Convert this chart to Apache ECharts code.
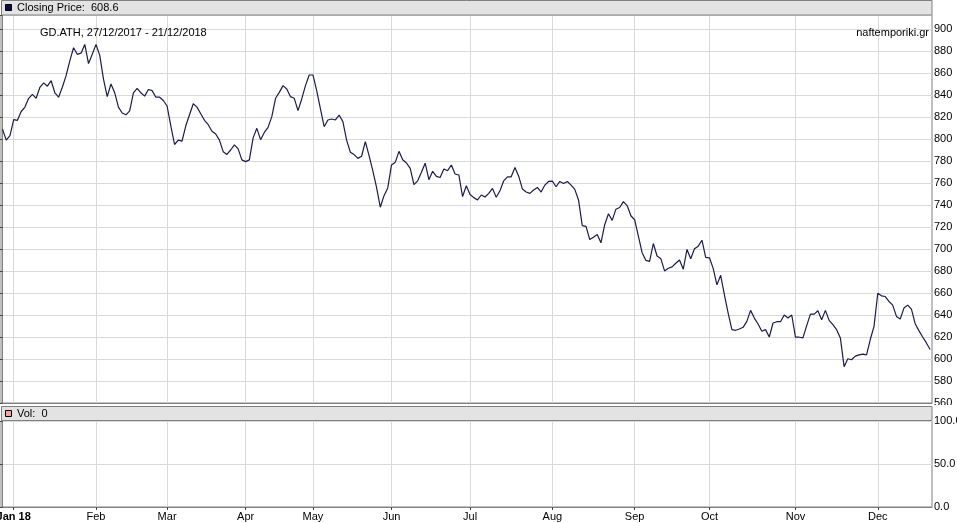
<!DOCTYPE html>
<html><head><meta charset="utf-8">
<script src="https://cdn.jsdelivr.net/npm/echarts@6/dist/echarts.min.js"></script>
<style>html,body{margin:0;padding:0;background:#fff}#c{width:957px;height:523px}</style>
</head><body><div id="c"></div>
<script>
const symbol = 'GD.ATH';
const source = 'naftemporiki.gr';
const startDate = '2017-12-27';
const endDate = '2018-12-21';
const holidays = ['2018-01-01','2018-02-19','2018-03-30','2018-04-02','2018-04-06','2018-04-09','2018-05-01','2018-05-28','2018-08-15'];
const monthNames = ['Jan','Feb','Mar','Apr','May','Jun','Jul','Aug','Sep','Oct','Nov','Dec'];
const closing = [
809,799,803,817.6,817,825,829,837,840.6,837,847,851,848,853,842,838,847,857.6,871,883,
877,878,886,868.5,877,886,876,854.5,838.5,850,842,829,823.6,822,825.5,842,846,842,839,845,
844,838,838,835,830,812,795,799,798,812,822,832,829,823,817,813,807,804.5,799,788.5,
786,790,794.6,791,781,779.4,781,801,809.7,799.4,806,810.6,820.3,837,842.4,848.5,845.5,838.5,837,825.8,
836.4,848.5,858.2,858.2,844,827.3,811.2,817.3,818.2,817.3,821.8,815.8,799,788,785.8,782.4,784.3,797.6,784.9,771.2,
756,738,748.5,755.5,776.4,778.8,788.8,781.2,778.2,773.3,758.5,762,769.7,778,763,770.6,766,765,772.7,771.2,
776.4,768.2,767.3,747.6,757.5,749.5,746.7,744.6,749.1,747.3,750.6,755.1,747,753,762,765.6,765.6,774,766.2,754.5,
751.8,750.6,753.6,756,751.8,758.1,761.4,761.7,756.6,761.4,759.6,761.4,758.1,754.2,744.6,721.2,720.6,708.6,710.7,713.1,
705.6,722.1,732,726,736.2,737.7,743.1,739.5,730.2,726.6,711.6,696.6,689.7,688.8,705,693.6,691.2,680.1,682.5,683.7,
687,690,681.6,699.6,691.2,700.2,702.6,708,692.3,692,682.4,667.4,676.1,658.3,641.8,626.7,626.1,627.3,628.8,634.2,
644.2,637.2,631.8,625.2,626.7,620,632.7,633.9,633.9,640,637.2,640,619.8,619.8,619.2,630.3,640.8,640.8,643.9,635.7,
644.2,635.1,631.2,626.7,619.2,593,600.2,599.3,602.6,603.8,604.4,603.8,617.7,629.7,659.8,657.4,656.8,652.3,649,638.7,
636.3,646.3,649,645.4,632.1,625.8,620,614.6,608.6
];
const lastVolume = 0;
const priceTickStep = 20, priceMin = 560, priceTopLabel = 900;
const volTicks = [0, 50, 100];

// trading calendar
const dates = [];
(function(){
  const p = s => { const a = s.split('-').map(Number); return Date.UTC(a[0], a[1]-1, a[2]); };
  for (let t = p(startDate); t <= p(endDate); t += 86400000) {
    const d = new Date(t), wd = d.getUTCDay(), s = d.toISOString().slice(0,10);
    if (wd === 0 || wd === 6 || holidays.indexOf(s) >= 0) continue;
    dates.push(s);
  }
})();
const monthStarts = [];
for (let i = 1; i < dates.length; i++) if (dates[i].slice(5,7) !== dates[i-1].slice(5,7)) monthStarts.push(i);
const fmtDate = s => s.slice(8,10) + '/' + s.slice(5,7) + '/' + s.slice(0,4);
const FONT = 'Liberation Sans, Arial, sans-serif';
const GRID_C = '#d9d9d9', BORDER_C = '#808080', LINE_C = '#1b1b4f', HEAD_C = '#e3e3e3';

const chart = echarts.init(document.getElementById('c'), null, {renderer: 'canvas'});
const xMin = -0.4, xMax = closing.length - 0.5;
function xAxisCfg(gi, showLabels) {
  return {
    type: 'value', gridIndex: gi, min: xMin, max: xMax,
    axisLine: {show: true, onZero: false, lineStyle: {color: BORDER_C, width: 1}},
    axisTick: {show: showLabels, length: 3, customValues: monthStarts, lineStyle: {color: '#444'}},
    axisLabel: {show: showLabels, customValues: monthStarts, margin: 4, color: '#000', fontSize: 11, fontFamily: FONT,
      hideOverlap: false,
      formatter: v => { const d = dates[Math.round(v)]; if (!d) return ''; const m = +d.slice(5,7);
        return m === 1 ? '{b|' + monthNames[0] + ' ' + d.slice(2,4) + '}' : monthNames[m-1]; },
      rich: {b: {fontWeight: 'bold', fontSize: 11, fontFamily: FONT, color: '#000'}}},
    splitLine: {show: true, lineStyle: {color: GRID_C, width: 1}}
  };
}
chart.setOption({
  animation: false,
  backgroundColor: '#fff',
  title: [
    {text: symbol + ', ' + fmtDate(dates[0]) + ' - ' + fmtDate(dates[dates.length-1]), left: 40, top: 27, padding: 0,
     textStyle: {fontSize: 11, fontWeight: 'normal', color: '#000', fontFamily: FONT}},
    {text: source, right: 28, top: 27, padding: 0,
     textStyle: {fontSize: 11, fontWeight: 'normal', color: '#000', fontFamily: FONT}}
  ],
  grid: [
    {left: 1, right: 25, top: 15, height: 388, show: true, borderColor: BORDER_C, borderWidth: 1, backgroundColor: 'transparent',
     outerBoundsMode: 'none', containLabel: false},
    {left: 1, right: 25, top: 421, height: 86, show: true, borderColor: BORDER_C, borderWidth: 1, backgroundColor: 'transparent',
     outerBoundsMode: 'none', containLabel: false}
  ],
  xAxis: [xAxisCfg(0, false), xAxisCfg(1, true)],
  yAxis: [
    {type: 'value', gridIndex: 0, position: 'right', min: priceMin, max: 560 + 388 / 1.1, interval: priceTickStep,
     axisLine: {show: true, lineStyle: {color: BORDER_C}},
     axisTick: {show: true, inside: true, length: 3, lineStyle: {color: '#444'}},
     axisLabel: {margin: 2, color: '#000', fontSize: 11, fontFamily: FONT,
       formatter: v => (Math.abs(v % priceTickStep) < 1e-6 && v <= priceTopLabel) ? String(v) : ''},
     splitLine: {show: true, lineStyle: {color: GRID_C}}},
    {type: 'value', gridIndex: 1, position: 'right', min: volTicks[0], max: volTicks[2], interval: volTicks[1],
     axisLine: {show: true, lineStyle: {color: BORDER_C}},
     axisTick: {show: true, inside: true, length: 3, lineStyle: {color: '#444'}},
     axisLabel: {margin: 2, color: '#000', fontSize: 11, fontFamily: FONT, formatter: v => v.toFixed(1)},
     splitLine: {show: true, lineStyle: {color: GRID_C}}}
  ],
  graphic: [
    {type: 'rect', z: 100, shape: {x: 933, y: 405, width: 24, height: 9}, style: {fill: '#fff'}},
    {type: 'rect', z: 50, shape: {x: 1.5, y: 0.5, width: 930.5, height: 14.5}, style: {fill: HEAD_C, stroke: BORDER_C, lineWidth: 1}},
    {type: 'rect', z: 51, shape: {x: 5.5, y: 4.5, width: 6, height: 6}, style: {fill: '#0b0b45', stroke: '#000', lineWidth: 1}},
    {type: 'text', z: 51, x: 17, y: 8, style: {text: 'Closing Price:  ' + closing[closing.length-1], fill: '#000', font: '11px ' + FONT, textVerticalAlign: 'middle'}},
    {type: 'rect', z: 50, shape: {x: 1.5, y: 406.5, width: 930.5, height: 14}, style: {fill: HEAD_C, stroke: BORDER_C, lineWidth: 1}},
    {type: 'rect', z: 51, shape: {x: 5.5, y: 410.5, width: 6, height: 6}, style: {fill: '#f4a3a3', stroke: '#000', lineWidth: 1}},
    {type: 'text', z: 51, x: 17, y: 414, style: {text: 'Vol:  ' + lastVolume, fill: '#000', font: '11px ' + FONT, textVerticalAlign: 'middle'}}
  ],
  series: [
    {type: 'line', name: 'Closing Price', xAxisIndex: 0, yAxisIndex: 0, showSymbol: false, symbol: 'none',
     data: closing.map((v, i) => [i, v]), lineStyle: {color: LINE_C, width: 1.2}, clip: true}
  ]
});
</script></body></html>
